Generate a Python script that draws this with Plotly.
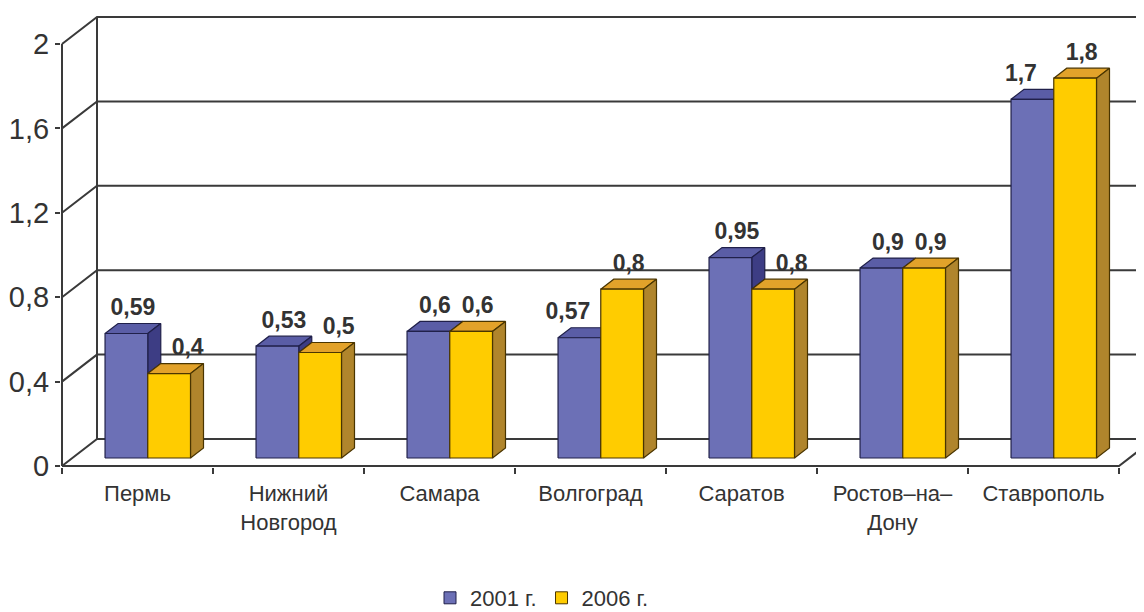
import plotly.graph_objects as go

# data
cities = ["Пермь", "Нижний<br>Новгород", "Самара", "Волгоград", "Саратов",
          "Ростов–на–<br>Дону", "Ставрополь"]
v2001 = [0.59, 0.53, 0.6, 0.57, 0.95, 0.9, 1.7]
v2006 = [0.4, 0.5, 0.6, 0.8, 0.8, 0.9, 1.8]
yticks = [0, 0.4, 0.8, 1.2, 1.6, 2]
yticktext = ["0", "0,4", "0,8", "1,2", "1,6", "2"]

# pixel scale of the axes (px per category / px per unit)
PXX = 151.0
PXY = 211.0
# depth of the floor / walls
DXF, DYF = 35 / PXX, 27 / PXY
# bars: front-face base lift, start inside category, width, depth
BY0 = 8 / PXY
BX0 = 0.285
W = 0.283
BDX, BDY = 13 / PXX, 10 / PXY
XEND = 7.6

# the page body adds 8px around the figure
FW, FH = 1136, 604

FONT = "Liberation Sans, Arial, sans-serif"
INK = "#333333"

blue = dict(front="#6c70b6", top="#5a5da6", side="#3d3d84", line="#20204a")
yell = dict(front="#ffcc00", top="#e2a22a", side="#b0852c", line="#4a3500")


def poly(pts):
    xs, ys = [], []
    for p in pts:
        xs.append(p[0])
        ys.append(p[1])
    xs.append(pts[0][0])
    ys.append(pts[0][1])
    return xs, ys


def faces(x0, h, lo):
    b = BY0
    front = [(x0, b), (x0 + W, b), (x0 + W, b + h), (x0, b + h)]
    top = [(x0, b + h), (x0 + W, b + h), (x0 + W + BDX, b + h + BDY), (x0 + BDX, b + h + BDY)]
    side = None
    if h > lo:
        side = [(x0 + W, b + lo), (x0 + W + BDX, b + lo + BDY),
                (x0 + W + BDX, b + h + BDY), (x0 + W, b + h)]
    return front, top, side


fig = go.Figure()

# walls, floor and the diagonal grid
gx, gy = [], []
for t in yticks:
    gx += [0, DXF, XEND, None]
    gy += [t, t + DYF, t + DYF, None]
gx += [DXF, DXF, None, 0, 0, None, 0, 7, 7 + DXF, None]
gy += [DYF, 2 + DYF, None, 0, 2, None, 0, 0, DYF, None]
fig.add_trace(go.Scatter(x=gx, y=gy, mode="lines", line=dict(color="#3a3a3a", width=2),
                         hoverinfo="skip", showlegend=False))

series = [(v2001, 0, blue), (v2006, 1, yell)]
for vals, k, col in series:
    acc = {"top": ([], []), "side": ([], []), "front": ([], [])}
    for i, h in enumerate(vals):
        x0 = i + BX0 + k * W
        # the left bar's side is only seen above the neighbouring bar
        lo = v2006[i] if k == 0 else 0
        front, top, side = faces(x0, h, lo)
        for name, pts in (("top", top), ("side", side), ("front", front)):
            if pts is None:
                continue
            xs, ys = poly(pts)
            acc[name][0].extend(xs + [None])
            acc[name][1].extend(ys + [None])
    for name in ("top", "side", "front"):
        fig.add_trace(go.Scatter(x=acc[name][0], y=acc[name][1], mode="lines", fill="toself",
                                 fillcolor=col[name], line=dict(color=col["line"], width=1.2),
                                 hoverinfo="skip", showlegend=False))

# value labels; the lower bar of a pair pushes its label outward
lx, ly, lt = [], [], []
for k, vals in enumerate([v2001, v2006]):
    other = v2006 if k == 0 else v2001
    for i, h in enumerate(vals):
        shift = 0
        if h < other[i]:
            shift = (-18 if k == 0 else 12) / PXX
        lx.append(i + BX0 + k * W + W / 2 + BDX / 2 + shift)
        ly.append(BY0 + h + BDY + 14 / PXY)
        lt.append("<b>" + f"{h:g}".replace(".", ",") + "</b>")
fig.add_trace(go.Scatter(x=lx, y=ly, mode="text", text=lt, textposition="middle center",
                         textfont=dict(family=FONT, size=23, color=INK),
                         hoverinfo="skip", showlegend=False, cliponaxis=False))

# legend entries
fig.add_trace(go.Bar(x=[None], y=[None], name="2001 г.",
                     marker=dict(color=blue["front"], line=dict(color=blue["line"], width=1))))
fig.add_trace(go.Bar(x=[None], y=[None], name="2006 г.",
                     marker=dict(color=yell["front"], line=dict(color=yell["line"], width=1))))

fig.update_layout(
    width=FW, height=FH,
    margin=dict(l=53, r=0, t=2, b=145, autoexpand=False),
    paper_bgcolor="white", plot_bgcolor="white",
    font=dict(family=FONT, color=INK),
    showlegend=True,
    legend=dict(orientation="h", xref="container", yref="container",
                x=534 / FW, xanchor="center", y=14 / FH, yanchor="middle",
                font=dict(size=22, color=INK), itemwidth=30, tracegroupgap=0),
    xaxis=dict(range=[-1 / PXX, -1 / PXX + 1083 / PXX], showgrid=False, zeroline=False,
               showline=False, tickmode="array", tickvals=[i + 0.5 for i in range(len(cities))],
               ticktext=cities, ticks="", tickfont=dict(size=22, color=INK),
               ticklabelstandoff=11, automargin=False,
               minor=dict(tickmode="array", tickvals=list(range(len(cities) + 1)),
                          ticks="outside", ticklen=6, tickwidth=1.5, tickcolor="#3a3a3a"),
               fixedrange=True),
    yaxis=dict(range=[-1 / PXY, -1 / PXY + 457 / PXY], showgrid=False, zeroline=False,
               showline=False, tickmode="array", tickvals=yticks, ticktext=yticktext,
               ticks="outside", ticklen=5, tickwidth=1.5, tickcolor="#3a3a3a",
               tickfont=dict(size=29, color=INK), automargin=False, fixedrange=True),
)

fig.write_html("out.html")
